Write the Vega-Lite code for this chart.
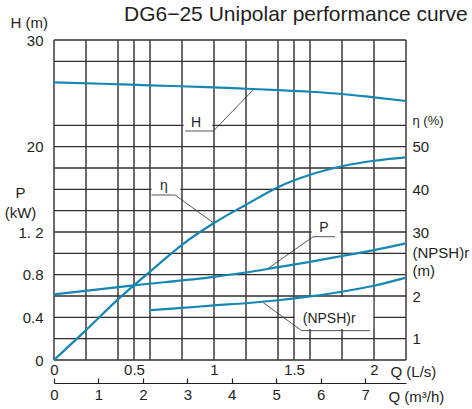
{
  "$schema": "https://vega.github.io/schema/vega-lite/v6.json",
  "width": 352,
  "height": 320,
  "autosize": {"type": "none"},
  "padding": {"left": 54, "top": 40, "right": 66, "bottom": 49},
  "background": "white",
  "title": {"text": "DG6\u221225 Unipolar performance curve", "anchor": "start", "frame": "group", "dx": 70, "offset": -27, "baseline": "alphabetic", "fontSize": 21, "fontWeight": "normal", "font": "Liberation Sans", "color": "#231f20"},
  "config": {
    "view": {"stroke": null},
    "axis": {"domain": false, "ticks": false, "grid": false, "labelFont": "Liberation Sans", "labelFontSize": 15, "labelColor": "#231f20", "titleFont": "Liberation Sans", "titleFontSize": 15, "titleFontWeight": "normal", "titleColor": "#231f20", "labelFlush": false, "labelOverlap": false, "labelBound": false}
  },
  "datasets": {
    "vgrid": [{"q": 0}, {"q": 0.2}, {"q": 0.4}, {"q": 0.5}, {"q": 0.6}, {"q": 0.8}, {"q": 1.0}, {"q": 1.2}, {"q": 1.4}, {"q": 1.5}, {"q": 1.6}, {"q": 1.8}, {"q": 2.0}, {"q": 2.2}],
    "hgrid": [{"h": 0}, {"h": 2}, {"h": 4}, {"h": 6}, {"h": 8}, {"h": 10}, {"h": 12}, {"h": 14}, {"h": 16}, {"h": 18}, {"h": 20}, {"h": 22}, {"h": 28}, {"h": 30}],
    "boxes": [
      {"q1": 0.81, "q2": 0.99, "h1": 21.7, "h2": 23.3},
      {"q1": 0.61, "q2": 0.79, "h1": 15.75, "h2": 17.3},
      {"q1": 1.61, "q2": 1.79, "h1": 11.75, "h2": 13.2},
      {"q1": 1.505, "q2": 1.995, "h1": 2.9, "h2": 5.9}
    ],
    "leaders": [
      {"q1": 0.819, "h1": 21.47, "q2": 0.996, "h2": 21.47},
      {"q1": 0.996, "h1": 21.47, "q2": 1.253, "h2": 25.45},
      {"q1": 0.61, "h1": 15.47, "q2": 0.756, "h2": 15.47},
      {"q1": 0.756, "h1": 15.47, "q2": 1.0, "h2": 12.82},
      {"q1": 1.62, "h1": 11.56, "q2": 1.756, "h2": 11.56},
      {"q1": 1.62, "h1": 11.56, "q2": 1.339, "h2": 8.6},
      {"q1": 1.548, "h1": 2.75, "q2": 1.975, "h2": 2.75},
      {"q1": 1.548, "h1": 2.75, "q2": 1.308, "h2": 5.37}
    ],
    "labels": [
      {"q": 0.8875, "h": 22.2, "t": "H"},
      {"q": 0.6875, "h": 16.3, "t": "\u03b7"},
      {"q": 1.6875, "h": 12.4, "t": "P"},
      {"q": 1.72, "h": 3.84, "t": "(NPSH)r"}
    ],
    "H": [{"q": 0, "v": 26.03}, {"q": 0.3, "v": 25.9}, {"q": 0.6, "v": 25.75}, {"q": 1.0, "v": 25.56}, {"q": 1.2, "v": 25.43}, {"q": 1.4, "v": 25.3}, {"q": 1.6, "v": 25.15}, {"q": 1.8, "v": 24.94}, {"q": 2.0, "v": 24.62}, {"q": 2.2, "v": 24.28}],
    "eta": [{"q": 0, "v": 0}, {"q": 0.2, "v": 7.0}, {"q": 0.4, "v": 14.2}, {"q": 0.5, "v": 17.5}, {"q": 0.6, "v": 20.7}, {"q": 0.8, "v": 27.0}, {"q": 1.0, "v": 32.1}, {"q": 1.2, "v": 36.4}, {"q": 1.4, "v": 40.5}, {"q": 1.6, "v": 43.4}, {"q": 1.8, "v": 45.4}, {"q": 2.0, "v": 46.7}, {"q": 2.2, "v": 47.5}],
    "P": [{"q": 0, "v": 0.616}, {"q": 0.5, "v": 0.70}, {"q": 1.0, "v": 0.78}, {"q": 1.2, "v": 0.82}, {"q": 1.4, "v": 0.87}, {"q": 1.6, "v": 0.92}, {"q": 1.8, "v": 0.975}, {"q": 2.0, "v": 1.03}, {"q": 2.2, "v": 1.094}],
    "NPSH": [{"q": 0.6, "v": 1.667}, {"q": 0.8, "v": 1.72}, {"q": 1.0, "v": 1.78}, {"q": 1.2, "v": 1.83}, {"q": 1.4, "v": 1.9}, {"q": 1.6, "v": 1.99}, {"q": 1.8, "v": 2.10}, {"q": 2.0, "v": 2.24}, {"q": 2.2, "v": 2.43}],
    "m3h": [{"qm": 0}, {"qm": 7.92}]
  },
  "resolve": {"scale": {"x": "independent", "y": "independent"}, "axis": {"x": "independent", "y": "independent"}},
  "layer": [
    {
      "data": {"name": "vgrid"},
      "mark": {"type": "rule", "color": "#332c2a", "strokeWidth": 1.4},
      "encoding": {
        "x": {"field": "q", "type": "quantitative", "scale": {"domain": [0, 2.2], "nice": false, "zero": false},
          "axis": {"values": [0, 0.5, 1, 1.5, 2], "format": "~g", "labelPadding": 2, "title": "Q (L/s)", "titleX": 336, "titleY": 11, "titleAlign": "left", "titleBaseline": "middle", "titleAngle": 0}}
      }
    },
    {
      "data": {"name": "hgrid"},
      "mark": {"type": "rule", "color": "#332c2a", "strokeWidth": 1.4},
      "encoding": {
        "y": {"field": "h", "type": "quantitative", "scale": {"domain": [0, 30], "nice": false, "zero": false}, "axis": null}
      }
    },
    {
      "data": {"name": "boxes"},
      "mark": {"type": "rect", "color": "white"},
      "encoding": {
        "x": {"field": "q1", "type": "quantitative", "scale": {"domain": [0, 2.2], "nice": false, "zero": false}, "axis": null},
        "x2": {"field": "q2"},
        "y": {"field": "h1", "type": "quantitative", "scale": {"domain": [0, 30], "nice": false, "zero": false}, "axis": null},
        "y2": {"field": "h2"}
      }
    },
    {
      "data": {"name": "leaders"},
      "mark": {"type": "rule", "color": "#2a2a2a", "strokeWidth": 0.8},
      "encoding": {
        "x": {"field": "q1", "type": "quantitative", "scale": {"domain": [0, 2.2], "nice": false, "zero": false}, "axis": null},
        "x2": {"field": "q2"},
        "y": {"field": "h1", "type": "quantitative", "scale": {"domain": [0, 30], "nice": false, "zero": false}, "axis": null},
        "y2": {"field": "h2"}
      }
    },
    {
      "data": {"name": "labels"},
      "mark": {"type": "text", "font": "Liberation Sans", "fontSize": 14, "color": "#231f20", "align": "center", "baseline": "middle"},
      "encoding": {
        "x": {"field": "q", "type": "quantitative", "scale": {"domain": [0, 2.2], "nice": false, "zero": false}, "axis": null},
        "y": {"field": "h", "type": "quantitative", "scale": {"domain": [0, 30], "nice": false, "zero": false}, "axis": null},
        "text": {"field": "t"}
      }
    },
    {
      "data": {"name": "H"},
      "mark": {"type": "line", "color": "#1487b5", "strokeWidth": 2.2, "interpolate": "monotone"},
      "encoding": {
        "x": {"field": "q", "type": "quantitative", "scale": {"domain": [0, 2.2], "nice": false, "zero": false}, "axis": null},
        "y": {"field": "v", "type": "quantitative", "scale": {"domain": [0, 30], "nice": false, "zero": false},
          "axis": {"orient": "left", "values": [20, 30], "format": "d", "labelPadding": 11, "title": "H (m)", "titleAngle": 0, "titleAlign": "left", "titleBaseline": "middle", "titleX": -44, "titleY": -18}}
      }
    },
    {
      "data": {"name": "P"},
      "mark": {"type": "line", "color": "#1487b5", "strokeWidth": 2.2, "interpolate": "monotone"},
      "encoding": {
        "x": {"field": "q", "type": "quantitative", "scale": {"domain": [0, 2.2], "nice": false, "zero": false}, "axis": null},
        "y": {"field": "v", "type": "quantitative", "scale": {"domain": [0, 3], "nice": false, "zero": false},
          "axis": {"orient": "left", "values": [0, 0.4, 0.8, 1.2], "labelExpr": "datum.value == 0 ? '0' : (datum.value == 1.2 ? '1. 2' : format(datum.value, '.1f'))", "labelPadding": 11, "title": ["P", "(kW)"], "titleAngle": 0, "titleAlign": "center", "titleBaseline": "top", "titleLineHeight": 20, "titleX": -34, "titleY": 145}}
      }
    },
    {
      "data": {"name": "eta"},
      "mark": {"type": "line", "color": "#1487b5", "strokeWidth": 2.2, "interpolate": "monotone"},
      "encoding": {
        "x": {"field": "q", "type": "quantitative", "scale": {"domain": [0, 2.2], "nice": false, "zero": false}, "axis": null},
        "y": {"field": "v", "type": "quantitative", "scale": {"domain": [0, 75], "nice": false, "zero": false},
          "axis": {"orient": "right", "values": [30, 40, 50], "format": "d", "labelPadding": 6, "title": "\u03b7 (%)", "titleAngle": 0, "titleAlign": "left", "titleBaseline": "middle", "titleX": 6, "titleY": 80, "titleFontSize": 13}}
      }
    },
    {
      "data": {"name": "NPSH"},
      "mark": {"type": "line", "color": "#1487b5", "strokeWidth": 2.2, "interpolate": "monotone"},
      "encoding": {
        "x": {"field": "q", "type": "quantitative", "scale": {"domain": [0, 2.2], "nice": false, "zero": false}, "axis": null},
        "y": {"field": "v", "type": "quantitative", "scale": {"domain": [0.5, 8], "nice": false, "zero": false},
          "axis": {"orient": "right", "values": [1, 2], "format": "d", "labelPadding": 6, "title": ["(NPSH)r", "(m)"], "titleAngle": 0, "titleAlign": "left", "titleBaseline": "top", "titleLineHeight": 18, "titleX": 6, "titleY": 205}}
      }
    },
    {
      "data": {"name": "m3h"},
      "mark": {"type": "point", "opacity": 0},
      "encoding": {
        "x": {"field": "qm", "type": "quantitative", "scale": {"domain": [0, 7.92], "nice": false, "zero": false},
          "axis": {"orient": "bottom", "offset": 23, "values": [0, 1, 2, 3, 4, 5, 6, 7], "format": "d", "domain": true, "domainColor": "#231f20", "domainWidth": 1.2, "ticks": true, "tickColor": "#231f20", "tickWidth": 1.2, "tickSize": -5, "labelPadding": 9, "title": "Q (m\u00b3/h)", "titleX": 334, "titleY": 13, "titleAlign": "left", "titleBaseline": "middle", "titleAngle": 0}}
      }
    }
  ]
}
